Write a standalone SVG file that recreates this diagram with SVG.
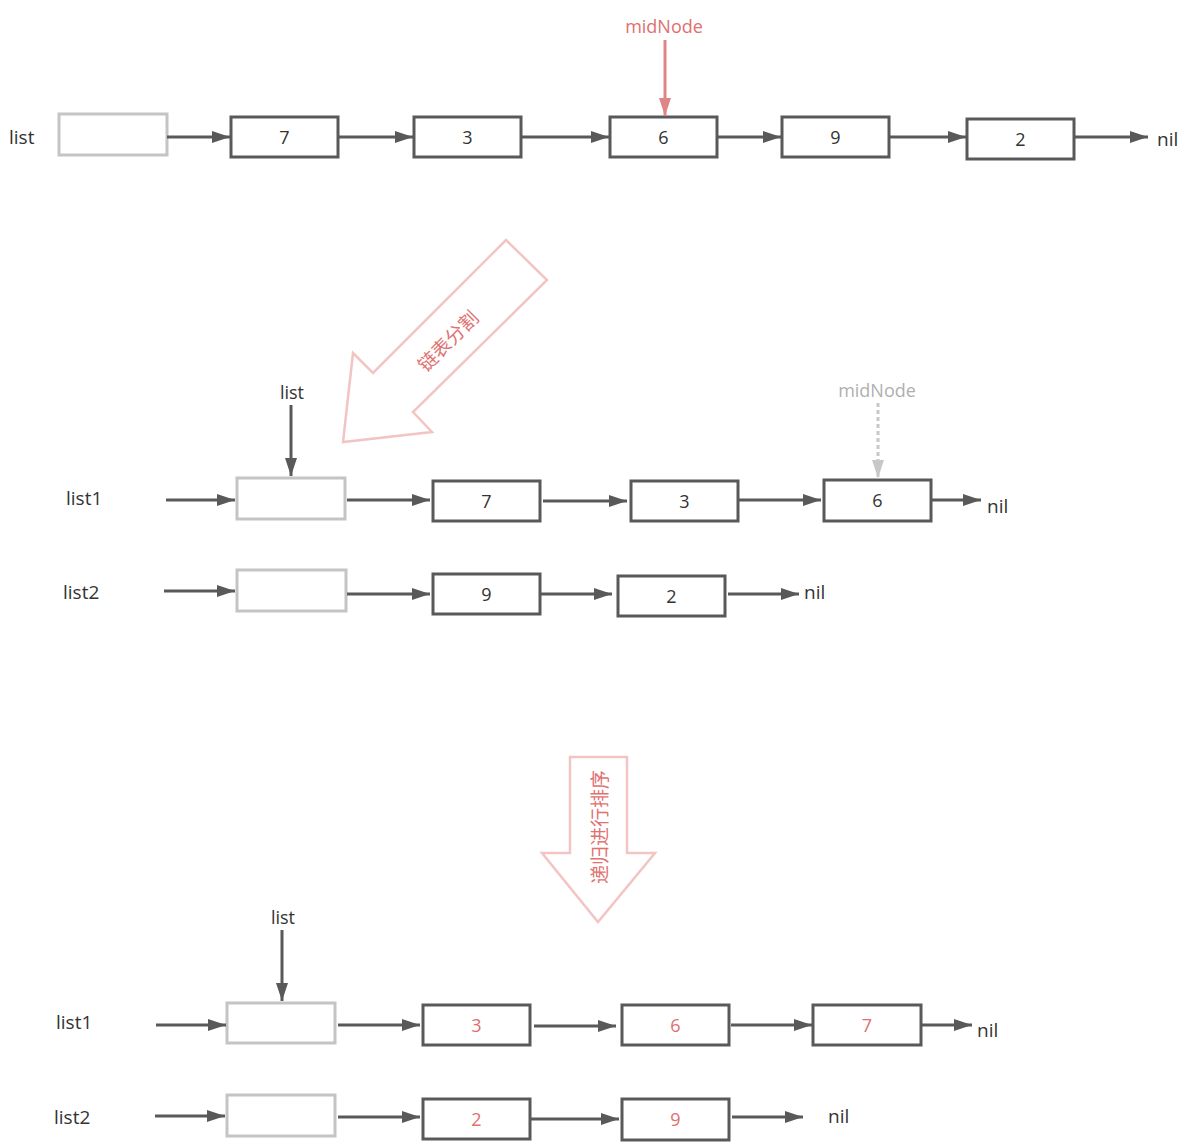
<svg xmlns="http://www.w3.org/2000/svg" width="1200" height="1144" viewBox="0 0 1200 1144">
<style>
.node{fill:#fff;stroke:#595959;stroke-width:3}
.head{fill:#fff;stroke:#c4c4c4;stroke-width:3}
.t{font-family:"Open Sans","Noto Sans","Liberation Sans",sans-serif;font-size:18px;fill:#333;text-anchor:middle;dominant-baseline:central}
.lbl{font-family:"Open Sans","Noto Sans","Liberation Sans",sans-serif;font-size:19px;fill:#333;dominant-baseline:central}
.red{fill:#e06f6f}
.e{stroke:#595959;stroke-width:3;fill:none;marker-end:url(#ah)}
.big{fill:#fff;stroke:#f3c4c4;stroke-width:2.5;stroke-linejoin:miter}
.cjk{font-family:"Noto Sans CJK SC","Noto Sans",sans-serif;font-size:19px;fill:#e07272;text-anchor:middle;dominant-baseline:central}
</style>
<defs>
<marker id="ah" markerUnits="userSpaceOnUse" markerWidth="20" markerHeight="14" refX="18" refY="7" orient="auto"><path d="M0,1 L18,7 L0,13 Z" fill="#595959"/></marker>
<marker id="ahr" markerUnits="userSpaceOnUse" markerWidth="20" markerHeight="14" refX="18" refY="7" orient="auto"><path d="M0,1 L18,7 L0,13 Z" fill="#e08585"/></marker>
<marker id="ahg" markerUnits="userSpaceOnUse" markerWidth="20" markerHeight="14" refX="18" refY="7" orient="auto"><path d="M0,1 L18,7 L0,13 Z" fill="#c8c8c8"/></marker>
</defs>

<!-- big arrows -->
<g id="split-arrow">
<polygon class="big" points="506,240 547,280 413,412 432,432 343,442 353,353 373,373"/>
<text class="cjk" transform="translate(447,340) rotate(-45)">链表分割</text>
</g>
<g id="sort-arrow">
<polygon class="big" points="570,757 627,757 627,853 655,853 598,922 542,853 570,853"/>
<text class="cjk" transform="translate(598,827) rotate(-90)">递归进行排序</text>
</g>

<!-- row 1 -->
<g id="r1-label"><text class="lbl" x="9" y="137">list</text></g>
<g id="r1-head"><rect class="head" x="59" y="114" width="108" height="41"/></g>
<g id="r1-n7"><rect class="node" x="231" y="117" width="107" height="40"/><text class="t" x="284.5" y="137">7</text></g>
<g id="r1-n3"><rect class="node" x="414" y="117" width="107" height="40"/><text class="t" x="467.5" y="137">3</text></g>
<g id="r1-n6"><rect class="node" x="610" y="117" width="107" height="40"/><text class="t" x="663.5" y="137">6</text></g>
<g id="r1-n9"><rect class="node" x="782" y="117" width="107" height="40"/><text class="t" x="835.5" y="137">9</text></g>
<g id="r1-n2"><rect class="node" x="967" y="119" width="107" height="40"/><text class="t" x="1020.5" y="139">2</text></g>
<g id="r1-nil"><text class="lbl" x="1157" y="139">nil</text></g>
<g id="r1-mid"><text class="t red" x="664" y="26">midNode</text></g>

<!-- row 2 -->
<g id="r2-list"><text class="t" x="292" y="392">list</text></g>
<g id="r2-l1"><text class="lbl" x="66" y="498">list1</text></g>
<g id="r2-h1"><rect class="head" x="237" y="478" width="108" height="41"/></g>
<g id="r2-n7"><rect class="node" x="433" y="481" width="107" height="40"/><text class="t" x="486.5" y="501">7</text></g>
<g id="r2-n3"><rect class="node" x="631" y="481" width="107" height="40"/><text class="t" x="684.5" y="501">3</text></g>
<g id="r2-n6"><rect class="node" x="824" y="480" width="107" height="41"/><text class="t" x="877.5" y="500">6</text></g>
<g id="r2-nil1"><text class="lbl" x="987" y="506">nil</text></g>
<g id="r2-mid"><text class="t" x="877" y="390" style="fill:#b0b0b0">midNode</text></g>
<g id="r2-l2"><text class="lbl" x="63" y="592">list2</text></g>
<g id="r2-h2"><rect class="head" x="237" y="570" width="109" height="41"/></g>
<g id="r2-n9"><rect class="node" x="433" y="574" width="107" height="40"/><text class="t" x="486.5" y="594">9</text></g>
<g id="r2-n2"><rect class="node" x="618" y="576" width="107" height="40"/><text class="t" x="671.5" y="596">2</text></g>
<g id="r2-nil2"><text class="lbl" x="804" y="592">nil</text></g>

<!-- row 3 -->
<g id="r3-list"><text class="t" x="283" y="917">list</text></g>
<g id="r3-l1"><text class="lbl" x="56" y="1022">list1</text></g>
<g id="r3-h1"><rect class="head" x="227" y="1003" width="108" height="40"/></g>
<g id="r3-n3"><rect class="node" x="423" y="1005" width="107" height="40"/><text class="t red" x="476.5" y="1025">3</text></g>
<g id="r3-n6"><rect class="node" x="622" y="1005" width="107" height="40"/><text class="t red" x="675.5" y="1025">6</text></g>
<g id="r3-n7"><rect class="node" x="813" y="1005" width="108" height="40"/><text class="t red" x="867" y="1025">7</text></g>
<g id="r3-nil1"><text class="lbl" x="977" y="1030">nil</text></g>
<g id="r3-l2"><text class="lbl" x="54" y="1117">list2</text></g>
<g id="r3-h2"><rect class="head" x="227" y="1095" width="108" height="41"/></g>
<g id="r3-n2"><rect class="node" x="423" y="1099" width="107" height="40"/><text class="t red" x="476.5" y="1119">2</text></g>
<g id="r3-n9"><rect class="node" x="622" y="1099" width="107" height="41"/><text class="t red" x="675.5" y="1119">9</text></g>
<g id="r3-nil2"><text class="lbl" x="828" y="1116">nil</text></g>

<g id="connectors">
<!-- row 1 -->
<line class="e" x1="167" y1="137" x2="230" y2="137"/>
<line class="e" x1="338" y1="137" x2="413" y2="137"/>
<line class="e" x1="521" y1="137" x2="609" y2="137"/>
<line class="e" x1="717" y1="137" x2="781" y2="137"/>
<line class="e" x1="889" y1="137" x2="966" y2="137"/>
<line class="e" x1="1075" y1="137" x2="1148" y2="137"/>
<line x1="665" y1="40" x2="665" y2="116" stroke="#e08585" stroke-width="3" marker-end="url(#ahr)"/>
<!-- row 2 -->
<line class="e" x1="291" y1="405" x2="291" y2="476"/>
<line class="e" x1="166" y1="500" x2="235" y2="500"/>
<line class="e" x1="347" y1="500" x2="430" y2="500"/>
<line class="e" x1="543" y1="501" x2="627" y2="501"/>
<line class="e" x1="739" y1="500" x2="821" y2="500"/>
<line class="e" x1="932" y1="500" x2="981" y2="500"/>
<line x1="878" y1="403" x2="878" y2="478" stroke="#c8c8c8" stroke-width="3" stroke-dasharray="4,3" marker-end="url(#ahg)"/>
<line class="e" x1="164" y1="591" x2="235" y2="591"/>
<line class="e" x1="347" y1="594" x2="430" y2="594"/>
<line class="e" x1="541" y1="594" x2="612" y2="594"/>
<line class="e" x1="728" y1="594" x2="799" y2="594"/>
<!-- row 3 -->
<line class="e" x1="282" y1="930" x2="282" y2="1001"/>
<line class="e" x1="156" y1="1025" x2="226" y2="1025"/>
<line class="e" x1="338" y1="1025" x2="420" y2="1025"/>
<line class="e" x1="534" y1="1026" x2="616" y2="1026"/>
<line class="e" x1="731" y1="1025" x2="812" y2="1025"/>
<line class="e" x1="922" y1="1025" x2="972" y2="1025"/>
<line class="e" x1="155" y1="1116" x2="225" y2="1116"/>
<line class="e" x1="338" y1="1117" x2="420" y2="1117"/>
<line class="e" x1="531" y1="1119" x2="619" y2="1119"/>
<line class="e" x1="732" y1="1117" x2="803" y2="1117"/>
</g>
</svg>
